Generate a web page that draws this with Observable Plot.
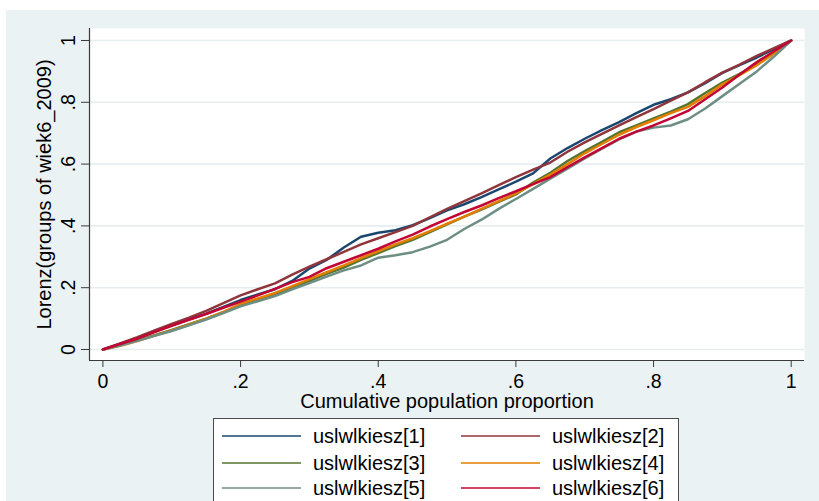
<!DOCTYPE html>
<html>
<head>
<meta charset="utf-8">
<script src="https://cdn.jsdelivr.net/npm/d3@7"></script>
<script src="https://cdn.jsdelivr.net/npm/@observablehq/plot@0.6"></script>
<style>
  body { margin: 0; background: #ffffff; font-family: "Liberation Sans", Arial, sans-serif; }
  #bg { position: absolute; left: 6px; top: 10px; width: 813px; height: 491px; background: #eaf2f3; }
  #chart { position: absolute; left: 0; top: 0; }
  #legend { position: absolute; left: 213px; top: 418px; width: 466px; height: 86px; background: #ffffff; border: 1px solid #4a4a4a; box-sizing: border-box; }
  .row { position: absolute; height: 26px; font-size: 20px; color: #000; line-height: 26px; white-space: nowrap; }
  .row svg { position: absolute; left: 0; top: 0; }
  .row span { position: absolute; top: 0; }
</style>
</head>
<body>
<div id="bg"></div>
<div id="chart"></div>
<div id="legend"></div>
<script>
// ---- data ----
const seriesNames = ["uslwlkiesz[1]", "uslwlkiesz[2]", "uslwlkiesz[3]", "uslwlkiesz[4]", "uslwlkiesz[5]", "uslwlkiesz[6]"];
const seriesColors = ["#1a476f", "#90353b", "#55752f", "#e37e00", "#6e8e84", "#c10534"];

const popShare = [0, .025, .05, .075, .1, .125, .15, .175, .2, .225, .25, .275, .3, .325, .35, .375, .4, .425, .45, .475, .5, .525, .55, .575, .6, .625, .65, .675, .7, .725, .75, .775, .8, .825, .85, .875, .9, .925, .95, .975, 1];

const lorenz1 = [0, .018, .037, .058, .078, .097, .116, .138, .16, .178, .195, .222, .262, .29, .33, .365, .378, .386, .402, .425, .45, .47, .493, .518, .543, .57, .618, .652, .682, .71, .736, .765, .792, .81, .832, .862, .895, .92, .945, .972, 1];
const lorenz2 = [0, .02, .04, .062, .083, .103, .125, .15, .175, .195, .214, .242, .268, .292, .316, .34, .36, .38, .40, .428, .455, .48, .505, .532, .558, .582, .605, .64, .67, .698, .725, .752, .778, .805, .832, .865, .896, .922, .95, .975, 1];
const lorenz3 = [0, .014, .03, .046, .063, .082, .1, .121, .142, .16, .18, .2, .222, .245, .265, .29, .312, .335, .355, .38, .405, .43, .453, .478, .502, .54, .572, .61, .642, .672, .703, .725, .748, .77, .794, .83, .864, .892, .922, .96, 1];
const lorenz4 = [0, .012, .027, .045, .062, .08, .1, .122, .148, .165, .183, .205, .228, .25, .272, .296, .318, .34, .36, .383, .407, .43, .455, .48, .505, .535, .566, .6, .635, .665, .695, .72, .742, .765, .785, .82, .858, .888, .92, .958, 1];
const lorenz5 = [0, .013, .028, .044, .06, .078, .097, .118, .14, .156, .173, .195, .215, .236, .256, .272, .297, .305, .315, .333, .355, .39, .42, .455, .487, .52, .553, .585, .618, .65, .68, .705, .718, .725, .745, .78, .82, .86, .9, .948, 1];
const lorenz6 = [0, .018, .035, .056, .077, .096, .115, .135, .155, .175, .196, .218, .235, .263, .284, .305, .326, .35, .372, .398, .422, .445, .466, .49, .512, .535, .558, .59, .622, .652, .682, .705, .725, .748, .772, .81, .848, .89, .93, .965, 1];

const xTicks = [0, .2, .4, .6, .8, 1];
const xTickLabels = ["0", ".2", ".4", ".6", ".8", "1"];
const yTicks = [0, .2, .4, .6, .8, 1];
const yTickLabels = ["0", ".2", ".4", ".6", ".8", "1"];

const xTitle = "Cumulative population proportion";
const yTitle = "Lorenz(groups of wiek6_2009)";

// ---- build ----
const allSeries = [lorenz1, lorenz2, lorenz3, lorenz4, lorenz5, lorenz6];
const data = seriesNames.flatMap((name, i) => popShare.map((x, j) => ({series: name, x, y: allSeries[i][j]})));

const xDomain = [-0.0195, 1.0193];
const yDomain = [-0.0356, 1.0388];
const axisColor = "#3a3a3a";

const chart = Plot.plot({
  width: 819,
  height: 501,
  marginLeft: 89,
  marginRight: 15,
  marginTop: 28,
  marginBottom: 141,
  style: {background: "transparent", fontFamily: "'Liberation Sans', Arial, sans-serif", fontSize: "20px", color: axisColor, overflow: "visible"},
  x: {domain: xDomain, ticks: xTicks, tickSize: 7, tickFormat: () => "", label: null},
  y: {domain: yDomain, ticks: yTicks, tickSize: 8, tickFormat: () => "", label: null},
  color: {domain: seriesNames, range: seriesColors},
  marks: [
    Plot.frame({fill: "white", stroke: null}),
    Plot.ruleY(yTicks, {stroke: "#e6eef0", strokeWidth: 1.6}),
    Plot.line(data, {x: "x", y: "y", z: "series", stroke: "series", strokeWidth: 2.5}),
    Plot.ruleX([xDomain[0]], {stroke: axisColor, strokeWidth: 1.2}),
    Plot.ruleY([yDomain[0]], {stroke: axisColor, strokeWidth: 1.2}),
    Plot.text(xTicks, {x: d => d, frameAnchor: "bottom", dy: 21, text: (d, i) => xTickLabels[i], fill: "#000", fontSize: 19.5, textAnchor: "middle", lineAnchor: "middle"}),
    Plot.text(yTicks, {y: d => d, frameAnchor: "left", dx: -21, rotate: -90, text: (d, i) => yTickLabels[i], fill: "#000", fontSize: 19.5, textAnchor: "middle", lineAnchor: "middle"}),
    Plot.text([xTitle], {frameAnchor: "bottom", dy: 41, text: d => d, fill: "#000", fontSize: 20, textAnchor: "middle", lineAnchor: "middle"}),
    Plot.text([yTitle], {frameAnchor: "left", dx: -45, rotate: -90, text: d => d, fill: "#000", fontSize: 20, textAnchor: "middle", lineAnchor: "middle"})
  ]
});
document.getElementById("chart").appendChild(chart);

// ---- legend ----
const legend = document.getElementById("legend");
const rowTops = [4, 31, 56];
const colLefts = [8, 247];
seriesNames.forEach((name, i) => {
  const row = document.createElement("div");
  row.className = "row";
  row.style.top = rowTops[Math.floor(i / 2)] + "px";
  row.style.left = colLefts[i % 2] + "px";
  row.style.width = "220px";
  row.innerHTML = `<svg width="80" height="26"><line x1="0" x2="79" y1="13" y2="13" stroke="${seriesColors[i]}" stroke-width="1.6"/></svg><span style="left:91px">${name}</span>`;
  legend.appendChild(row);
});
</script>
</body>
</html>
